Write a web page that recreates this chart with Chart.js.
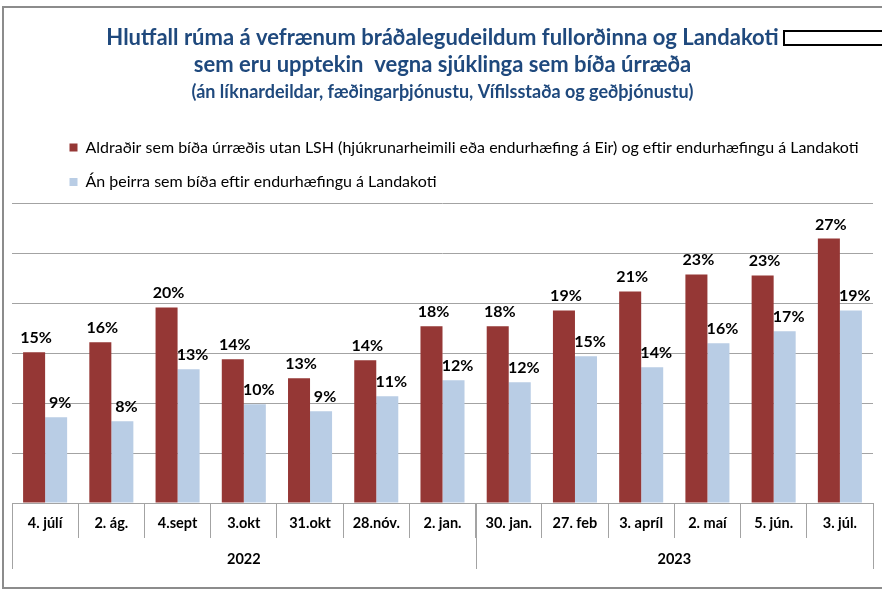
<!DOCTYPE html>
<html><head><meta charset="utf-8">
<script src="https://cdn.jsdelivr.net/npm/chart.js@4.4.1/dist/chart.umd.min.js"></script>
<style>
html,body{margin:0;padding:0;background:#fff;}
#wrap{position:relative;width:882px;height:590px;overflow:hidden;}
#frame{position:absolute;left:2px;top:6px;width:920px;height:583px;border:2px solid #8c8c8c;box-sizing:border-box;}
#tag{position:absolute;left:783px;top:30px;width:140px;height:16px;border:2px solid #000;box-sizing:border-box;background:#fff;}
canvas{position:absolute;left:0;top:0;}
</style></head>
<body><div id="wrap"><div id="frame"></div><div id="tag"></div><canvas id="c" width="882" height="590"></canvas></div>
<script>
const categories = ['4. júlí','2. ág.','4.sept','3.okt','31.okt','28.nóv.','2. jan.','30. jan.','27. feb','3. apríl','2. maí','5. jún.','3. júl.'];
const yearLabels = ['2022','2023'];
const yearCounts = [7, 6];
const seriesNames = [
  'Aldraðir sem bíða úrræðis utan LSH (hjúkrunarheimili eða endurhæfing á Eir) og eftir endurhæfingu á Landakoti',
  'Án þeirra sem bíða eftir endurhæfingu á Landakoti'
];
const elderlyWaiting = [15.1, 16.1, 19.6, 14.4, 12.5, 14.3, 17.7, 17.7, 19.3, 21.2, 22.9, 22.8, 26.5];
const withoutLandakot = [8.6, 8.2, 13.4, 9.9, 9.2, 10.7, 12.3, 12.1, 14.7, 13.6, 16.0, 17.2, 19.3];
const titleLines = [
  'Hlutfall rúma á vefrænum bráðalegudeildum fullorðinna og Landakoti',
  'sem eru upptekin  vegna sjúklinga sem bíða úrræða'
];
const subtitleText = '(án líknardeildar, fæðingarþjónustu, Vífilsstaða og geðþjónustu)';

const FONT = 'Lato';
const GRID = '#a3a3a3';

const layoutTweak = {
  id: 'layoutTweak',
  beforeUpdate(chart) {
    const lg = chart.legend;
    if (lg && !lg._wrappedFit) {
      const f = lg.fit;
      lg.fit = function () { f.call(this); this.height += 3.5; };
      lg._wrappedFit = true;
    }
  },
  afterLayout(chart) {
    if (chart.legend) { chart.legend.left += 39; chart.legend.right += 39; }
  }
};

const valueLabels = {
  id: 'valueLabels',
  afterDatasetsDraw(chart) {
    const ctx = chart.ctx;
    ctx.save();
    ctx.font = 'bold 16px ' + FONT;
    ctx.fillStyle = '#000';
    ctx.textAlign = 'center';
    ctx.textBaseline = 'alphabetic';
    chart.data.datasets.forEach((ds, di) => {
      const meta = chart.getDatasetMeta(di);
      meta.data.forEach((bar, i) => {
        ctx.fillText(Math.round(ds.data[i]) + '%', bar.x + (di ? 4 : 2), bar.y - 9);
      });
    });
    ctx.restore();
  }
};

const yearAxis = {
  id: 'yearAxis',
  afterDraw(chart) {
    const xs = chart.scales.x;
    const ctx = chart.ctx;
    const top = xs.top;
    ctx.save();
    ctx.strokeStyle = GRID;
    ctx.lineWidth = 1;
    ctx.fillStyle = '#000';
    ctx.font = 'bold 14.5px ' + FONT;
    ctx.textAlign = 'center';
    ctx.textBaseline = 'middle';
    let start = 0;
    yearLabels.forEach((lab, k) => {
      const end = start + yearCounts[k];
      const x0 = xs.getPixelForValue(start - 0.5);
      const x1 = xs.getPixelForValue(end - 0.5);
      const edges = k === 0 ? [x0, x1] : [x1];
      edges.forEach(x => {
        const px = Math.round(x) + 0.5;
        ctx.beginPath(); ctx.moveTo(px, top); ctx.lineTo(px, top + 66); ctx.stroke();
      });
      ctx.fillText(lab, (x0 + x1) / 2, top + 56);
      start = end;
    });
    ctx.restore();
  }
};

new Chart(document.getElementById('c'), {
  type: 'bar',
  data: {
    labels: categories,
    datasets: [
      { label: seriesNames[0], data: elderlyWaiting, backgroundColor: '#953735', borderWidth: 0 },
      { label: seriesNames[1], data: withoutLandakot, backgroundColor: '#b9cde5', borderWidth: 0 }
    ]
  },
  options: {
    responsive: false,
    animation: false,
    datasets: { bar: { categoryPercentage: 0.665, barPercentage: 1 } },
    layout: { padding: { left: 12, right: 9, top: 0, bottom: 0 } },
    plugins: {
      title: {
        display: true, text: titleLines, color: '#1f497d',
        font: { family: FONT, size: 22, weight: 'bold', lineHeight: 1.2 },
        padding: { top: 25, bottom: 4 }
      },
      subtitle: {
        display: true, text: subtitleText, color: '#1f497d',
        font: { family: FONT, size: 18, weight: 'bold', lineHeight: 1.2 },
        padding: { top: 0, bottom: 17.7 }
      },
      legend: {
        display: true, position: 'top', align: 'start',
        labels: { boxWidth: 8, boxHeight: 8, padding: 18.5, color: '#000', font: { family: FONT, size: 16 } }
      },
      tooltip: { enabled: false }
    },
    scales: {
      x: {
        grid: { display: true, offset: true, drawOnChartArea: false, drawTicks: true, tickLength: 35, color: GRID, lineWidth: 1 },
        border: { display: true, color: GRID, width: 1 },
        ticks: { font: { family: FONT, size: 14.5, weight: 'bold' }, color: '#000', padding: -23, maxRotation: 0, autoSkip: false },
        afterFit(s) { s.height = 87; }
      },
      y: {
        min: 0, max: 30,
        ticks: { display: false, stepSize: 5 },
        grid: { color: GRID, lineWidth: 1, drawTicks: false },
        border: { display: false },
        afterFit(s) { s.width = 0; }
      }
    }
  },
  plugins: [layoutTweak, valueLabels, yearAxis]
});
</script>
</body></html>
